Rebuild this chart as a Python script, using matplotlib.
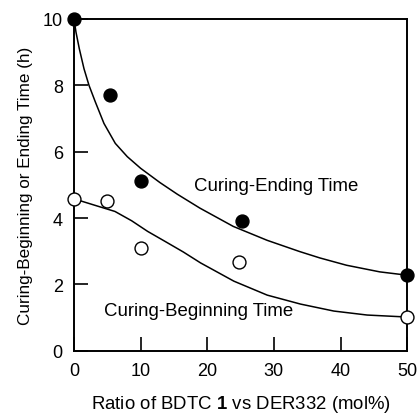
import matplotlib
matplotlib.use("Agg")
import matplotlib.pyplot as plt

plt.rcParams['font.family'] = ['Liberation Sans', 'DejaVu Sans']
plt.rcParams['mathtext.fontset'] = 'custom'
plt.rcParams['mathtext.rm'] = 'Liberation Sans'
plt.rcParams['mathtext.bf'] = 'Liberation Sans:bold'

# Виміряні точки
end_x = [0, 5.4, 10, 25.2, 50]
end_y = [10, 7.7, 5.13, 3.92, 2.28]
begin_x = [0, 5, 10, 24.7, 50]
begin_y = [4.56, 4.5, 3.1, 2.68, 1.02]

# Апроксимуючі криві
end_fit_x = [0, 0.3, 0.8, 1.5, 2.25, 3.2, 4.5, 6.2, 8, 10, 12.9, 15.5, 18.9,
             23.9, 29, 33.9, 36.9, 40.9, 45.9, 50]
end_fit_y = [10, 9.6, 9.1, 8.5, 8.0, 7.5, 6.85, 6.25, 5.85, 5.5, 5.07, 4.72, 4.3,
             3.75, 3.33, 2.99, 2.8, 2.58, 2.38, 2.28]
begin_fit_x = [0, 3.55, 6.15, 8.65, 11.05, 13.65, 16.4, 19, 24, 29, 34, 39, 44, 50]
begin_fit_y = [4.58, 4.36, 4.2, 3.92, 3.6, 3.3, 2.98, 2.65, 2.1, 1.68, 1.41, 1.2, 1.08, 1.02]

fig = plt.figure(figsize=(4.18, 4.14), dpi=100)
ax = fig.add_axes([0.177, 0.150, 0.797, 0.802])

ax.plot(end_fit_x, end_fit_y, color='black', lw=1.1)
ax.plot(begin_fit_x, begin_fit_y, color='black', lw=1.1)
ax.plot(end_x, end_y, 'o', color='black', ms=9.3, clip_on=False, zorder=5)
ax.plot(begin_x, begin_y, 'o', mfc='white', mec='black', mew=1.0, ms=9.3,
        clip_on=False, zorder=5)

ax.text(18.0, 4.97, "Curing-Ending Time", fontsize=13.4, va='center')
ax.text(4.5, 1.23, "Curing-Beginning Time", fontsize=13.4, va='center')

ax.set_xlim(0, 50)
ax.set_ylim(0, 10)
ax.set_xticks([0, 10, 20, 30, 40, 50])
ax.set_yticks([0, 2, 4, 6, 8, 10])
ax.tick_params(direction='in', length=10, width=1.2, labelsize=13, pad=8,
               top=False, right=False)
for s in ax.spines.values():
    s.set_linewidth(1.4)

ax.set_xlabel(r"Ratio of BDTC $\mathbf{1}$ vs DER332 (mol%)", fontsize=13.4, labelpad=10)
ax.set_ylabel("Curing-Beginning or Ending Time (h)", fontsize=12.3, labelpad=7)

fig.savefig("out.png", dpi=100)
